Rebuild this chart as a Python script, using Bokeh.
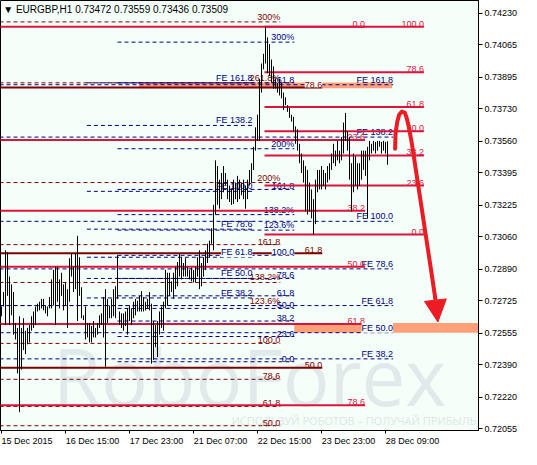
from bokeh.plotting import figure
from bokeh.models import Range1d, FixedTicker, NumeralTickFormatter, Label, Arrow, NormalHead
from bokeh.core.properties import value
from bokeh.embed import file_html
from bokeh.resources import INLINE

# ---------------- data ----------------
x_tick_bars = [0, 32, 64, 96, 128, 160, 192]
x_tick_labels = ["15 Dec 2015", "16 Dec 15:00", "17 Dec 23:00", "21 Dec 07:00",
                 "22 Dec 15:00", "23 Dec 23:00", "28 Dec 09:00"]
y_ticks = [0.74230, 0.74065, 0.73895, 0.73730, 0.73560, 0.73395, 0.73225,
           0.73060, 0.72890, 0.72725, 0.72555, 0.72390, 0.72220, 0.72055]

# hourly bar highs / lows in points (1e-5)
high_pts = [
    72694, 72770, 72988, 72978, 72851, 72810, 72770, 72608, 72582, 72643,
    72582, 72633, 72567, 72582, 72597, 72643, 72668, 72694, 72709, 72719,
    72734, 72734, 72699, 72694, 72744, 72836, 72886, 72902, 72902, 72836,
    72871, 72810, 72820, 72785, 72947, 72973, 72902, 72973, 73064, 72952,
    72795, 72648, 72694, 72608, 72608, 72592, 72618, 72582, 72608, 72648,
    72658, 72744, 72785, 72734, 72699, 72734, 72785, 72800, 72962, 72668,
    72658, 72658, 72668, 72684, 72699, 72684, 72719, 72734, 72724, 72750,
    72775, 72744, 72719, 72734, 72770, 72709, 72618, 72597, 72618, 72668,
    72694, 72719, 72886, 72871,
    72871, 72826, 72871, 72902, 72927, 72973, 72952, 72922, 72947, 72902,
    72886, 72897, 72886, 72902, 72952, 72988, 72922, 72952, 72988, 73023,
    73039, 73104, 73226, 73459, 73429, 73358, 73393, 73429, 73393, 73358,
    73327, 73307, 73358, 73343, 73378, 73358, 73343, 73358, 73327, 73358,
    73409, 73444, 73530, 73632, 73698, 73885, 73966, 74017, 74159, 74103,
    74068, 73987, 73951, 73885, 73865, 73885,
    73865, 73814, 73789, 73748, 73733, 73698, 73687, 73637, 73622, 73546,
    73495, 73459, 73429, 73409, 73343, 73307, 73256, 73358, 73409, 73409,
    73429, 73409, 73393, 73429, 73444, 73495, 73546, 73510, 73561, 73510,
    73581, 73657, 73708, 73611, 73581, 73444, 73495, 73480, 73444, 73444,
    73510, 73510, 73510, 73530, 73561, 73546, 73561, 73556, 73561, 73561,
    73556, 73561, 73556, 73559]
low_pts = [
    72643, 72694, 72597, 72750, 72597, 72648, 72547, 72521, 72344, 72141,
    72364, 72466, 72445, 72496, 72506, 72567, 72582, 72597, 72668, 72674,
    72684, 72674, 72658, 72643, 72684, 72684, 72699, 72597, 72719, 72684,
    72750, 72674, 72699, 72582, 72719, 72851, 72770, 72785, 72618, 72750,
    72633, 72623, 72521, 72532, 72506, 72506, 72532, 72532, 72547, 72582,
    72597, 72532, 72379, 72608, 72633, 72633, 72643, 72633, 72734, 72597,
    72582, 72567, 72592, 72547, 72618, 72597, 72633, 72648, 72668, 72668,
    72668, 72668, 72674, 72684, 72674, 72395, 72415, 72481, 72430, 72547,
    72582, 72567, 72684, 72699,
    72750, 72770, 72734, 72785, 72800, 72851, 72836, 72851, 72851, 72851,
    72836, 72826, 72820, 72820, 72851, 72785, 72800, 72851, 72886, 72922,
    72952, 73023, 72988, 73175, 73226, 73206, 73256, 73292, 73327, 73256,
    73241, 73226, 73231, 73256, 73241, 73256, 73277, 73256, 73206, 73256,
    73327, 73343, 73409, 73510, 73561, 73561, 73814, 73936, 73966, 73916,
    73900, 73865, 73835, 73835, 73814, 73799,
    73784, 73723, 73748, 73713, 73682, 73662, 73611, 73546, 73510, 73444,
    73393, 73343, 73191, 73175, 73191, 73155, 73071, 73125, 73292, 73307,
    73307, 73327, 73307, 73343, 73358, 73409, 73444, 73429, 73459, 73444,
    73459, 73495, 73561, 73510, 73358, 73191, 73292, 73327, 73307, 73327,
    73358, 73409, 73378, 73155, 73459, 73495, 73510, 73495, 73510, 73530,
    73495, 73510, 73495, 73436]

# Fibonacci objects (price levels and their labels)
redA_labels = ["0.0", "23.6", "38.2", "50.0", "61.8", "78.6"]
redA_levels = [0.74159, 0.73566, 0.73196, 0.72902, 0.72602, 0.72177]
redB_labels = ["0.0", "23.6", "38.2", "50.0", "61.8", "78.6", "100.0"]
redB_levels = [0.73071, 0.73327, 0.73485, 0.73611, 0.73738, 0.73921, 0.74159]
marS_labels = ["50.0", "61.8", "78.6"]
marS_levels = [0.72374, 0.72973, 0.73840]
marD_labels = ["300%", "261.8%", "200%", "161.8", "138.2%", "123.6%", "100.0", "78.6", "61.8", "50.0"]
marD_levels = [0.74184, 0.73865, 0.73343, 0.73018, 0.72820, 0.72699, 0.72501, 0.72313, 0.72171, 0.72070]
navy_labels = ["300%", "261.8", "200%", "161.8", "138.2%", "123.6%", "100.0", "78.6",
               "61.8", "50.0", "38.2", "23.6", "0.0"]
navy_levels = [0.74078, 0.73865, 0.73520, 0.73307, 0.73175, 0.73094, 0.72962, 0.72841,
               0.72750, 0.72684, 0.72618, 0.72537, 0.72405]
feL_labels = ["FE 161.8", "FE 138.2", "FE 100.0", "FE 78.6", "FE 61.8", "FE 50.0", "FE 38.2"]
feL_levels = [0.73865, 0.73642, 0.73297, 0.73099, 0.72952, 0.72841, 0.72739]
feR_labels = ["FE 161.8", "FE 138.2", "FE 100.0", "FE 78.6", "FE 61.8", "FE 50.0", "FE 38.2"]
feR_levels = [0.73855, 0.73581, 0.73140, 0.72891, 0.72699, 0.72557, 0.72420]

# highlighted zones (price bottom / top)
zone_bottom = [0.73837, 0.72557]
zone_top = [0.73867, 0.72608]

# forecast arrow path (bar index, price)
arrow_x = [196.8, 197.0, 197.8, 198.8, 200.2, 201.7, 202.7, 203.7, 205.2, 207.7, 210.2, 212.7, 215.2, 216.7]
arrow_y = [0.73520, 0.73596, 0.73657, 0.73698, 0.73715, 0.73708, 0.73677, 0.73632, 0.73546,
           0.73373, 0.73201, 0.73028, 0.72856, 0.72750]
arrow_tip = (218.2, 0.72613)

last_price = 0.73509
title = "\u25BC EURGBP,H1  0.73472 0.73559 0.73436 0.73509"

# ---------------- styling ----------------
FONT = "Liberation Sans"
BG = "#F5FFFA"
CRIMSON = "#DC143C"
MAROON = "#800000"
NAVY = "#000080"
SALMON = "#FFA07A"
ARROW_RED = "#EC1C24"
DASH = "4 3"

FRAME_W, FRAME_H = 478, 430
PX_PER_BAR = 2.0
X0 = -0.5
X1 = X0 + FRAME_W / PX_PER_BAR
Y0, Y1 = 0.72045, 0.74296

highs = [v / 1e5 for v in high_pts]
lows = [v / 1e5 for v in low_pts]
idx = list(range(len(highs)))

p = figure(frame_width=FRAME_W, frame_height=FRAME_H,
           x_range=Range1d(X0, X1), y_range=Range1d(Y0, Y1),
           output_backend="svg", toolbar_location=None, y_axis_location="right",
           min_border_left=0, min_border_top=0, min_border_right=43, min_border_bottom=19,
           background_fill_color=BG, border_fill_color="white")
p.grid.visible = False
p.outline_line_color = "black"
p.outline_line_width = 1

# axes
ya = p.yaxis[0]
ya.ticker = FixedTicker(ticks=y_ticks)
ya.formatter = NumeralTickFormatter(format="0.00000")
ya.major_tick_in = 0
ya.major_tick_out = 4
ya.minor_tick_in = 0
ya.minor_tick_out = 0
ya.major_label_standoff = 2
ya.major_label_text_font = FONT
ya.major_label_text_font_size = "9px"
ya.major_label_text_color = "black"
ya.axis_line_color = "black"
ya.major_tick_line_color = "black"

# time axis: tick marks at the bars (minor ticks), labels shifted so that they start at the tick
half_w_px = [25.5 if s.endswith("2015") else 26.8 for s in x_tick_labels]
label_pos = [round((b + w / PX_PER_BAR) * 4) / 4 for b, w in zip(x_tick_bars, half_w_px)]
xa = p.xaxis[0]
xa.ticker = FixedTicker(ticks=label_pos, minor_ticks=x_tick_bars)
xa.major_label_overrides = {lp: s for lp, s in zip(label_pos, x_tick_labels)}
xa.major_tick_line_color = None
xa.major_tick_in = 0
xa.major_tick_out = 3
xa.minor_tick_in = 0
xa.minor_tick_out = 3
xa.minor_tick_line_color = "black"
xa.major_label_standoff = 2
xa.major_label_text_font = FONT
xa.major_label_text_font_size = "9px"
xa.major_label_text_color = "black"
xa.axis_line_color = "black"

# watermark
p.text(x=[124], y=[0.72330], text=["RoboForex"], text_align="center",
       text_baseline="middle", text_font=value("Open Sans"), text_font_size="78px",
       text_color="#E1EAEA")
p.text(x=[237.5], y=[0.72095], text=["ИСПОЛЬЗУЙ РОБОТОВ – ПОЛУЧАЙ ПРИБЫЛЬ"], text_align="right",
       text_baseline="middle", text_font=value("Open Sans"), text_font_size="11px",
       text_color="#DCE6E6")

# zones
p.quad(left=[68.6, 146.4], right=[195.3, X1], bottom=zone_bottom, top=zone_top,
       fill_color=SALMON, line_color=None)

groups = {
    "marD": dict(levels=marD_levels, labels=marD_labels, x0=-1, x1=139.4, color=MAROON, dash=DASH, w=1, tc=MAROON),
    "navy": dict(levels=navy_levels, labels=navy_labels, x0=58, x1=146.4, color=NAVY, dash=DASH, w=1, tc=NAVY),
    "feL": dict(levels=feL_levels, labels=feL_labels, x0=42.7, x1=125.5, color=NAVY, dash=DASH, w=1, tc=NAVY),
    "feR": dict(levels=feR_levels, labels=feR_labels, x0=-1, x1=195.8, color=NAVY, dash=DASH, w=1, tc=NAVY),
    "redA": dict(levels=redA_levels, labels=redA_labels, x0=-1, x1=181.8, color=CRIMSON, dash="solid", w=2, tc=CRIMSON),
    "redB": dict(levels=redB_levels, labels=redB_labels, x0=131.5, x1=211.2, color=CRIMSON, dash="solid", w=2, tc=CRIMSON),
    "marS": dict(levels=marS_levels, labels=marS_labels, x0=-1, x1=160.4, color=MAROON, dash="solid", w=2, tc=MAROON),
}
bg_labels = {("feR", "FE 50.0"): BG, ("feL", "FE 61.8"): BG, ("navy", "100.0"): BG, ("marS", "78.6"): "white"}


def draw_lines(key):
    g = groups[key]
    n = len(g["levels"])
    p.segment(x0=[g["x0"]] * n, y0=g["levels"], x1=[g["x1"]] * n, y1=g["levels"],
              line_color=g["color"], line_width=g["w"], line_dash=g["dash"])


def draw_labels(key, with_bg):
    g = groups[key]
    xs, ys, ts, bgs = [], [], [], []
    for lv, lb in zip(g["levels"], g["labels"]):
        has = (key, lb) in bg_labels
        if has != with_bg:
            continue
        xs.append(g["x1"])
        ys.append(lv)
        ts.append(lb)
        bgs.append(bg_labels.get((key, lb)))
    if not xs:
        return
    kw = dict(text_align="right", text_baseline="bottom", text_font=value(FONT),
              text_font_size="9px", text_color=g["tc"])
    if with_bg:
        for x, y, t, b in zip(xs, ys, ts, bgs):
            p.text(x=[x], y=[y], text=[t], background_fill_color=b, **kw)
    else:
        p.text(x=xs, y=ys, text=ts, **kw)


for k in ["marD", "navy", "feL", "feR"]:
    draw_lines(k)
for k in ["marD", "navy", "feL", "feR"]:
    draw_labels(k, False)
for k in ["redA", "redB", "marS"]:
    draw_lines(k)
for k in ["redA", "redB", "marS"]:
    draw_labels(k, False)
for k in groups:
    draw_labels(k, True)

# price bars
p.segment(x0=idx, y0=lows, x1=idx, y1=highs, line_color="black", line_width=1)

# forecast arrow
p.line(arrow_x, arrow_y, line_color=ARROW_RED, line_width=4, line_cap="round", line_join="round")
p.add_layout(Arrow(x_start=arrow_x[-1], y_start=arrow_y[-1], x_end=arrow_tip[0], y_end=arrow_tip[1],
                   line_color=ARROW_RED, line_width=4,
                   end=NormalHead(size=22, fill_color=ARROW_RED, line_color=ARROW_RED)))

# title and last price marker
p.add_layout(Label(x=0.85, y=0.74250, text=title, text_font=FONT, text_font_size="10px",
                   text_color="black", text_baseline="middle", text_align="left"))
p.add_layout(Label(x=X1 + 1, y=last_price, text="0.73509", text_font=FONT, text_font_size="9px",
                   text_color="white", text_baseline="middle", text_align="left",
                   background_fill_color="black"))

open("out.html", "w").write(file_html(p, INLINE))
